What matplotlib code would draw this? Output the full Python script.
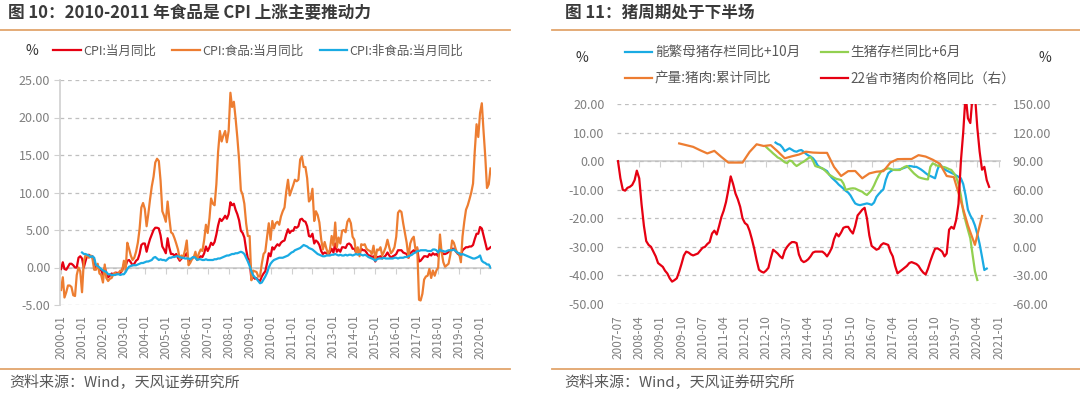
import matplotlib
matplotlib.use('Agg')
import matplotlib.pyplot as plt
import matplotlib.dates as mdates
from matplotlib.lines import Line2D
from matplotlib.ticker import FormatStrFormatter
import pandas as pd

plt.rcParams['font.family'] = ['Noto Sans CJK SC', 'DejaVu Sans']

# ---------------- 图10: CPI 当月同比 (%), monthly 2000-01 .. 2020-07
cpi = [
    -0.2, 0.7, -0.2, -0.3, 0.1, 0.5, 0.5, 0.3, 0.0, 0.0, 1.3, 1.5,
    1.2, 0.0, 0.8, 1.6, 1.7, 1.4, 1.5, 1.0, -0.1, 0.2, -0.3, -0.3,
    -1.0, 0.0, -0.8, -1.3, -1.1, -0.8, -0.9, -0.7, -0.7, -0.8, -0.7, -0.4,
    0.4, 0.2, 0.9, 1.0, 0.7, 0.3, 0.5, 0.9, 1.1, 1.8, 3.0, 3.2,
    3.2, 2.1, 3.0, 3.8, 4.4, 5.0, 5.3, 5.3, 5.2, 4.3, 2.8, 2.4,
    1.9, 3.9, 2.7, 1.8, 1.8, 1.6, 1.8, 1.3, 0.9, 1.2, 1.3, 1.6,
    1.9, 0.9, 0.8, 1.2, 1.4, 1.5, 1.0, 1.3, 1.5, 1.4, 1.9, 2.8,
    2.2, 2.7, 3.3, 3.0, 3.4, 4.4, 5.6, 6.5, 6.2, 6.5, 6.9, 6.5,
    7.1, 8.7, 8.3, 8.5, 7.7, 7.1, 6.3, 4.9, 4.6, 4.0, 2.4, 1.2,
    1.0, -1.6, -1.2, -1.5, -1.4, -1.7, -1.8, -1.2, -0.8, -0.5, 0.6, 1.9,
    1.5, 2.7, 2.4, 2.8, 3.1, 2.9, 3.3, 3.5, 3.6, 4.4, 5.1, 4.6,
    4.9, 4.9, 5.4, 5.3, 5.5, 6.4, 6.5, 6.2, 6.1, 5.5, 4.2, 4.1,
    4.5, 3.2, 3.6, 3.4, 3.0, 2.2, 1.8, 2.0, 1.9, 1.7, 2.0, 2.5,
    2.0, 3.2, 2.1, 2.4, 2.1, 2.7, 2.7, 2.6, 3.1, 3.2, 3.0, 2.5,
    2.5, 2.0, 2.4, 1.8, 2.5, 2.3, 2.3, 2.0, 1.6, 1.6, 1.4, 1.5,
    0.8, 1.4, 1.4, 1.5, 1.2, 1.4, 1.6, 2.0, 1.6, 1.3, 1.5, 1.6,
    1.8, 2.3, 2.3, 2.3, 2.0, 1.9, 1.8, 1.3, 1.9, 2.1, 2.3, 2.1,
    2.5, 0.8, 0.9, 1.2, 1.5, 1.5, 1.4, 1.8, 1.6, 1.9, 1.7, 1.8,
    1.5, 2.9, 2.1, 1.8, 1.8, 1.9, 2.1, 2.3, 2.5, 2.5, 2.2, 1.9,
    1.7, 1.5, 2.3, 2.5, 2.7, 2.7, 2.8, 2.8, 3.0, 3.8, 4.5, 4.5,
    5.4, 5.2, 4.3, 3.3, 2.4, 2.5, 2.7,
]
food = [
    -3.0, -1.3, -4.0, -3.3, -2.4, -2.4, -2.6, -3.7, -3.8, -1.0, 0.0, -0.5,
    -3.3, 0.8, 1.6, 1.5, 1.3, 1.6, 1.2, -0.3, -0.3, 0.5, -0.8, -1.0,
    -2.0, 0.4, -1.4, -1.8, -1.5, -1.4, -0.9, -0.7, -0.9, -0.7, -0.4, -0.5,
    0.9, -0.3, 3.3, 2.5, 1.6, 1.0, 1.3, 2.1, 3.3, 5.1, 8.0, 8.6,
    7.8, 5.5, 7.1, 9.1, 10.8, 12.1, 14.0, 14.5, 14.2, 11.6, 7.5, 6.9,
    6.1, 8.8, 6.7, 4.7, 4.5, 3.9, 3.2, 2.4, 1.1, 1.6, 1.4, 2.3,
    3.6, 0.3, 0.6, 1.1, 1.3, 2.1, 1.0, 1.9, 2.4, 2.2, 3.7, 5.7,
    4.6, 6.6, 9.2, 8.5, 8.3, 11.1, 15.4, 18.2, 16.8, 17.6, 18.2, 16.7,
    18.2, 23.3, 21.4, 22.1, 19.9, 17.3, 14.4, 10.3, 9.7, 8.5, 5.9, 4.2,
    4.2, -1.7, -0.4, -0.5, -0.6, -1.2, -1.2, 0.5, 1.8, 2.1, 4.1, 5.9,
    3.7, 6.2, 5.2, 5.9, 6.1, 5.7, 6.8, 7.5, 8.0, 10.1, 11.7, 9.6,
    10.3, 11.0, 11.7, 11.5, 11.7, 14.4, 14.8, 13.4, 13.4, 11.9, 8.8, 9.1,
    10.5, 6.2, 7.5, 7.0, 6.0, 3.8, 2.4, 3.4, 2.5, 1.8, 2.4, 4.2,
    2.9, 6.0, 2.7, 4.0, 3.2, 4.9, 5.0, 4.7, 6.1, 6.5, 5.9, 4.1,
    3.7, 1.8, 2.7, 1.5, 3.1, 3.0, 3.1, 2.5, 2.3, 2.2, 1.8, 2.9,
    1.1, 2.4, 2.3, 2.7, 1.6, 2.1, 2.7, 3.7, 2.7, 1.9, 2.2, 2.7,
    4.1, 7.3, 7.6, 7.4, 5.9, 4.6, 3.3, 1.3, 3.2, 3.8, 4.1, 2.4,
    2.7, -4.3, -4.4, -3.5, -1.6, -1.2, -1.1, -0.2, -1.4, -0.4, -1.1, -0.4,
    0.0, 4.4, 2.1, 0.7, 0.1, 0.3, 0.5, 1.7, 3.6, 3.3, 2.5, 1.9,
    1.9, 0.7, 4.1, 6.1, 7.7, 8.3, 9.1, 10.0, 11.2, 15.5, 19.1, 17.4,
    20.6, 21.9, 18.3, 14.8, 10.6, 11.1, 13.2,
]
# 非食品 starts 2001-01
nonfood = [
    2.0, 1.8, 1.8, 1.7, 1.6, 1.4, 1.5, 1.3, 0.3, 0.2, 0.0, -0.2,
    -0.4, -0.5, -0.6, -0.9, -0.9, -1.0, -1.0, -1.0, -0.9, -0.9, -1.0, -0.9,
    -0.9, -0.6, -0.2, 0.1, 0.2, 0.3, 0.3, 0.3, 0.4, 0.5, 0.6, 0.6,
    0.7, 0.8, 0.8, 0.9, 1.0, 1.3, 1.4, 1.2, 1.0, 1.1, 1.0, 1.0,
    0.9, 1.1, 1.3, 1.3, 1.4, 1.4, 1.5, 1.5, 1.4, 1.3, 1.3, 1.2,
    1.2, 1.2, 1.1, 1.3, 1.4, 1.3, 1.0, 1.1, 1.1, 1.0, 1.0, 1.1,
    1.0, 1.0, 1.0, 1.0, 1.1, 1.1, 1.2, 1.2, 1.3, 1.4, 1.5, 1.6,
    1.6, 1.7, 1.8, 1.8, 1.9, 1.9, 2.0, 2.1, 2.0, 1.8, 1.3, 0.8,
    0.2, -0.5, -1.0, -1.3, -1.5, -1.8, -2.1, -2.0, -1.6, -1.2, -0.7, 0.0,
    0.5, 0.8, 1.0, 1.1, 1.2, 1.3, 1.3, 1.3, 1.4, 1.5, 1.6, 1.8,
    2.0, 2.1, 2.3, 2.4, 2.5, 2.6, 2.8, 3.0, 2.9, 2.8, 2.6, 2.5,
    2.4, 2.2, 2.0, 1.8, 1.7, 1.6, 1.5, 1.5, 1.6, 1.6, 1.6, 1.7,
    1.7, 1.8, 1.7, 1.6, 1.7, 1.6, 1.6, 1.7, 1.6, 1.7, 1.7, 1.6,
    1.7, 1.8, 1.7, 1.8, 1.7, 1.6, 1.7, 1.6, 1.4, 1.3, 1.2, 1.1,
    0.9, 1.1, 1.2, 1.2, 1.2, 1.3, 1.2, 1.2, 1.2, 1.2, 1.2, 1.3,
    1.3, 1.2, 1.3, 1.3, 1.3, 1.4, 1.4, 1.5, 1.6, 1.7, 1.9, 2.0,
    2.2, 2.2, 2.3, 2.3, 2.3, 2.3, 2.2, 2.2, 2.2, 2.4, 2.4, 2.3,
    2.0, 2.4, 2.2, 2.2, 2.1, 2.2, 2.3, 2.3, 2.3, 2.4, 2.2, 2.0,
    1.9, 1.7, 1.8, 1.7, 1.6, 1.5, 1.4, 1.3, 1.2, 1.2, 1.3, 1.4,
    1.6, 0.9, 0.7, 0.6, 0.4, 0.4, 0.0,
]

# ---------------- 图11: 猪周期 (%)
# 能繁母猪存栏同比+10月, monthly from 2013-02
sow = [
    6.5, 6.0, 5.7, 4.8, 3.5, 4.0, 4.5, 4.0, 3.5, 3.3, 3.7, 3.9,
    3.3, 2.6, 2.0, 1.6, 1.0, 0.0, -1.5, -2.2, -2.6, -3.0, -3.5, -4.8,
    -5.8, -6.5, -7.3, -8.2, -8.9, -9.6, -10.4, -11.0, -12.0, -13.5, -14.8, -15.2,
    -15.4, -15.2, -15.0, -14.8, -15.0, -15.3, -14.5, -12.5, -11.5, -10.6, -9.8, -6.5,
    -4.3, -3.6, -3.1, -3.0, -3.0, -2.9, -2.6, -2.3, -2.0, -1.7, -1.8, -2.0,
    -2.0, -2.4, -2.9, -3.5, -4.2, -4.8, -5.2, -5.6, -6.0, -3.0, -1.0, -2.0,
    -2.8, -3.3, -3.7, -4.1, -4.5, -5.0, -5.5, -6.0, -8.0, -12.0, -17.0, -19.0,
    -20.5, -22.5, -25.5, -29.0, -33.5, -38.1, -37.6,
]
# 生猪存栏同比+6月, monthly from 2012-10
hog = [
    5.0, 4.2, 3.5, 2.7, 2.0, 1.3, 0.9, 0.3, -0.4, -0.7, 0.2, 0.0,
    -1.0, -1.7, -1.2, -0.6, -0.2, 0.4, 1.0, 1.5, 0.2, -1.7, -2.0, -2.2,
    -2.5, -3.2, -4.0, -4.8, -5.3, -5.8, -6.2, -6.4, -6.6, -7.8, -10.1, -9.8,
    -9.6, -9.5, -9.6, -10.0, -10.4, -10.7, -11.4, -11.85, -11.0, -10.1, -8.5, -6.6,
    -5.0, -3.6, -3.1, -2.8, -2.5, -2.7, -3.0, -3.1, -3.1, -3.1, -2.5, -2.0,
    -1.7, -2.5, -3.4, -4.3, -5.0, -5.6, -5.9, -6.1, -6.3, -6.4, -2.0, -0.75,
    -1.2, -1.6, -1.8, -2.0, -2.1, -2.4, -2.8, -3.1, -4.2, -5.5, -8.0, -12.0,
    -17.5, -21.0, -24.0, -27.0, -33.0, -38.5, -41.6,
]
# 产量:猪肉:累计同比, quarterly from 2009-09
pork_output = [
    6.2, 5.6, 5.0, 3.8, 2.7, 3.6, 1.5, -0.5, -0.5, -0.5, 3.2, 5.9,
    5.3, 5.6, 3.4, 1.0, 1.7, 2.3, 3.3, 3.0, 2.9, 2.9, -2.0, -5.2,
    -3.5, -3.45, -6.0, -4.3, -3.7, -3.5, -0.5, 0.7, 0.75, 0.75, 2.1, 1.6,
    0.5, -0.9, -5.2, -5.6, -14.0, -22.5, -29.3, -19.2,
]
# 22省市猪肉价格同比 (right axis), monthly from 2007-07
pork_price = [
    90, 72, 60, 59, 62, 63, 65, 70, 80, 72, 45, 22,
    6, 2, 0, -5, -10, -17, -19, -21, -25, -28, -33, -36.5,
    -35, -33, -26, -18, -9, -5, -6, -8, -9, -8, -7, -4,
    -1, 0, 3, 5, 14, 17, 13, 22, 31, 38, 47, 60,
    74, 66, 56, 50, 42, 30, 25, 23, 17, 8, -2, -14,
    -24, -26, -27, -25, -22, -12, -3, -5, -7, -10, -12, -4,
    0, 3, 5, 5, 4, -8, -14, -16, -15, -13, -10, -6,
    -5, -5, -5, -5, -7, -10, -6, -1, 8, 14, 11, 15,
    20, 21, 21, 17, 14, 22, 33, 36, 39, 41, 30, 12,
    1, -1, -3, -2, 2, 3.8, 3, 2, -5, -10, -20, -27.8,
    -26, -24, -22, -20, -17, -16, -17, -18, -20, -24, -27, -29,
    -23, -15, -8, -2, -1.5, -3, -5, -10, -7, 18, 21, 19,
    28, 45, 90, 120, 160, 135, 130, 160, 160, 125, 100, 81,
    84, 70, 63,
]

RED = '#E60012'
ORANGE = '#ED7D31'
BLUE = '#1AABE3'
GREEN = '#92D050'
TICK_GRAY = '#7F7F7F'
TEXT_GRAY = '#595959'
GRID = '#BFBFBF'
AXIS = '#D0D0D0'
RULE = '#E2A56C'

W, H = 1080, 396
fig = plt.figure(figsize=(W / 100, H / 100), dpi=100)


def fx(px):
    return px / W


def fy(py):
    return 1 - py / H


# titles, rules and source notes
for x0, x1, title in [(0, 510, '图 10：2010-2011 年食品是 CPI 上涨主要推动力'),
                      (552, 1080, '图 11：猪周期处于下半场')]:
    fig.text(fx(x0 + 8 if x0 == 0 else x0 + 13), fy(13), title, fontsize=12,
             fontweight='bold', color='#3A3A3A', va='center', ha='left')
    fig.add_artist(Line2D([fx(x0), fx(x1)], [fy(30), fy(30)], color=RULE, lw=1.3))
    fig.add_artist(Line2D([fx(x0), fx(x1)], [fy(369), fy(369)], color=RULE, lw=1.3))
    fig.text(fx(x0 + 9 if x0 == 0 else x0 + 12), fy(383), '资料来源：Wind，天风证券研究所',
             fontsize=10.8, color=TEXT_GRAY, va='center', ha='left')


def style_axis(ax, lo, hi, step, zero_frac, left_spine):
    ax.set_ylim(lo, hi)
    ax.set_yticks(range(lo, hi + 1, step))
    ax.yaxis.set_major_formatter(FormatStrFormatter('%.2f'))
    for s in ['top', 'right', 'bottom']:
        ax.spines[s].set_visible(False)
    ax.spines['left'].set_visible(left_spine)
    ax.spines['left'].set_color(AXIS)
    ax.spines['left'].set_linewidth(1.2)
    ax.grid(axis='y', color=GRID, ls=(0, (3, 3)), lw=0.9)
    ax.set_axisbelow(True)
    # solid zero line carrying the tick marks (category axis crossing at 0)
    sec = ax.secondary_xaxis(zero_frac)
    sec.spines['bottom'].set_color(AXIS)
    sec.spines['top'].set_color(AXIS)
    sec.spines['bottom'].set_linewidth(1.3)
    sec.spines['top'].set_linewidth(1.3)
    sec.tick_params(axis='x', length=4, color=AXIS, labelbottom=False, labeltop=False)
    return sec


# ---------------- left chart
ax1 = fig.add_axes([fx(60), fy(305), fx(491 - 60), (305 - 80) / H])
m_all = pd.date_range('2000-01-01', periods=len(cpi), freq='MS')
m_nf = pd.date_range('2001-01-01', periods=len(nonfood), freq='MS')
l_cpi, = ax1.plot(m_all, cpi, color=RED, lw=1.6, label='CPI:当月同比')
l_food, = ax1.plot(m_all, food, color=ORANGE, lw=1.6, label='CPI:食品:当月同比')
l_nf, = ax1.plot(m_nf, nonfood, color=BLUE, lw=1.6, label='CPI:非食品:当月同比')
ax1.set_xlim(pd.Timestamp('1999-12-14'), pd.Timestamp('2020-07-10'))
sec1 = style_axis(ax1, -5, 25, 5, 5 / 30, True)
year_ticks = pd.date_range('2000-01-01', '2020-01-01', freq='YS')
ax1.set_xticks(year_ticks)
sec1.set_xticks(year_ticks)
sec1.tick_params(axis='x', direction='out')
ax1.xaxis.set_major_formatter(mdates.DateFormatter('%Y-%m'))
ax1.tick_params(axis='x', length=0, pad=7, labelsize=8.5, labelcolor=TICK_GRAY, rotation=90)
ax1.tick_params(axis='y', length=4, color=AXIS, pad=3, labelsize=9, labelcolor=TICK_GRAY)

fig.text(fx(32), fy(51), '%', fontsize=10, color='#333333', ha='center', va='center')
fig.legend(handles=[l_cpi, l_food, l_nf], loc='center left',
           bbox_to_anchor=(fx(53), fy(51)), ncol=3, frameon=False,
           fontsize=9, handlelength=2.2, handletextpad=0.2, columnspacing=1.3,
           borderpad=0, borderaxespad=0, labelcolor=TEXT_GRAY)

# ---------------- right chart
ax2 = fig.add_axes([fx(617), fy(304), fx(1000 - 617), (304 - 104) / H])
ax3 = ax2.twinx()
m_sow = pd.date_range('2013-02-01', periods=len(sow), freq='MS')
m_hog = pd.date_range('2012-10-01', periods=len(hog), freq='MS')
m_out = pd.date_range('2009-09-01', periods=len(pork_output), freq='3MS')
m_price = pd.date_range('2007-07-01', periods=len(pork_price), freq='MS')
l_sow, = ax2.plot(m_sow, sow, color=BLUE, lw=1.6, label='能繁母猪存栏同比+10月')
l_hog, = ax2.plot(m_hog, hog, color=GREEN, lw=1.6, label='生猪存栏同比+6月')
l_out, = ax2.plot(m_out, pork_output, color=ORANGE, lw=1.6, label='产量:猪肉:累计同比')
l_price, = ax3.plot(m_price, pork_price, color=RED, lw=1.6, label='22省市猪肉价格同比（右）')
ax2.set_xlim(pd.Timestamp('2007-06-18'), pd.Timestamp('2021-01-20'))
sec2 = style_axis(ax2, -50, 20, 10, 50 / 70, False)
ax3.set_ylim(-60, 150)
ax3.set_yticks(range(-60, 151, 30))
ax3.yaxis.set_major_formatter(FormatStrFormatter('%.2f'))
for s in ax3.spines.values():
    s.set_visible(False)
ax3.tick_params(axis='y', length=0, pad=9, labelsize=9, labelcolor=TICK_GRAY)

q_ticks = pd.date_range('2007-07-01', '2021-01-01', freq='9MS')
ax2.set_xticks(q_ticks)
sec2.set_xticks(q_ticks)
sec2.tick_params(axis='x', direction='in')
ax2.xaxis.set_major_formatter(mdates.DateFormatter('%Y-%m'))
ax2.tick_params(axis='x', length=0, pad=8, labelsize=8.5, labelcolor=TICK_GRAY, rotation=90)
ax2.tick_params(axis='y', length=0, pad=9, labelsize=9, labelcolor=TICK_GRAY)

fig.text(fx(582), fy(58), '%', fontsize=10, color='#333333', ha='center', va='center')
fig.text(fx(1045), fy(58), '%', fontsize=10, color='#333333', ha='center', va='center')
fig.legend(handles=[l_sow, l_out, l_hog, l_price], loc='center left',
           bbox_to_anchor=(fx(625), fy(65.5)), ncol=2, frameon=False,
           fontsize=9.8, handlelength=2.0, handletextpad=0.2, columnspacing=1.5,
           labelspacing=0.85, borderpad=0, borderaxespad=0, labelcolor=TEXT_GRAY)

fig.savefig('out.png', dpi=100)
